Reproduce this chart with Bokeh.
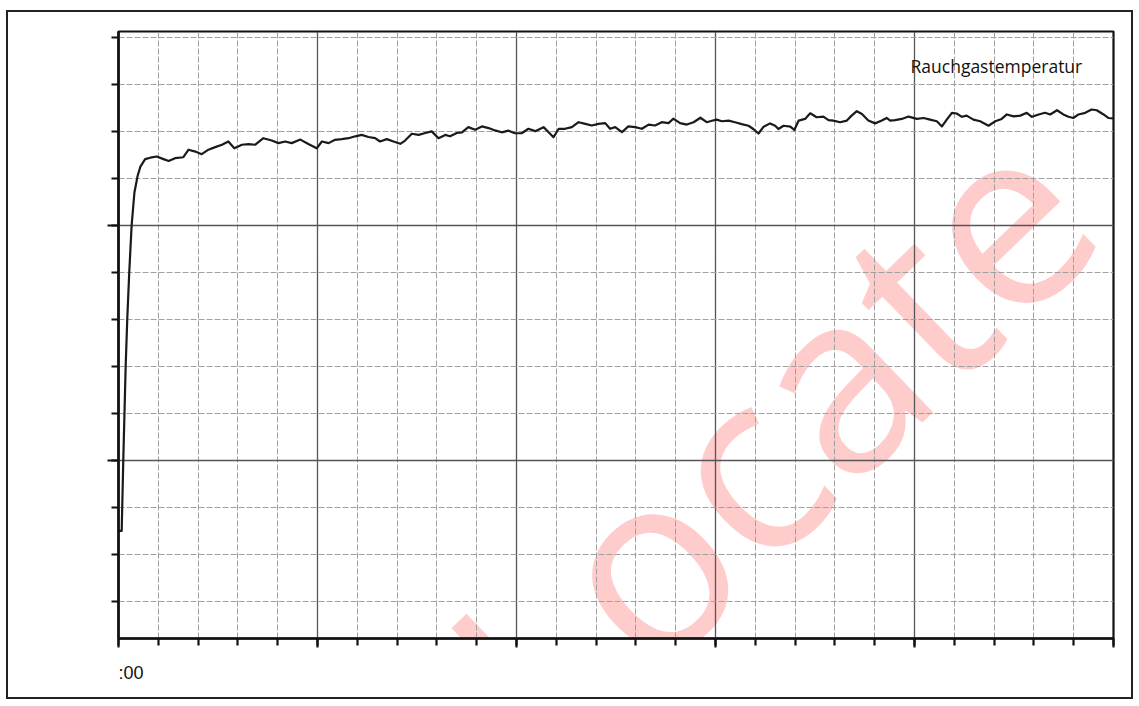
from bokeh.plotting import figure
from bokeh.models import Range1d, SingleIntervalTicker, Label, Title
from bokeh.embed import file_html
from bokeh.resources import INLINE

# ---- data (time in minutes, flue-gas temperature in °C) ----
series_name = "Rauchgastemperatur"
x_start_label = ":00"
watermark = "Locate"

times = [0.00, 0.08, 0.12, 0.18, 0.22, 0.27, 0.33, 0.40, 0.48, 0.55,
         0.67, 0.80, 0.96, 1.13, 1.26, 1.42, 1.63, 1.76, 1.93, 2.09,
         2.26, 2.43, 2.60, 2.76, 2.91, 3.10, 3.27, 3.43, 3.64, 3.85,
         4.02, 4.19, 4.35, 4.57, 4.77, 4.98, 5.11, 5.28, 5.44, 5.61,
         5.78, 5.95, 6.11, 6.28, 6.45, 6.57, 6.74, 6.91, 7.08, 7.20,
         7.37, 7.54, 7.71, 7.87, 8.04, 8.21, 8.33, 8.50, 8.63, 8.79,
         8.96, 9.13, 9.30, 9.46, 9.63, 9.80, 9.96, 10.13, 10.30, 10.47,
         10.68, 10.85, 10.93, 11.06, 11.22, 11.39, 11.56, 11.73, 11.89, 12.06,
         12.23, 12.35, 12.48, 12.65, 12.81, 12.98, 13.15, 13.32, 13.48, 13.65,
         13.82, 13.94, 14.11, 14.28, 14.45, 14.62, 14.78, 14.91, 15.03, 15.16,
         15.33, 15.49, 15.66, 15.83, 15.95, 16.08, 16.21, 16.37, 16.50, 16.58,
         16.71, 16.88, 16.98, 17.09, 17.25, 17.38, 17.54, 17.71, 17.84, 17.96,
         18.13, 18.30, 18.42, 18.55, 18.68, 18.84, 19.01, 19.18, 19.30, 19.39,
         19.51, 19.68, 19.85, 20.06, 20.23, 20.39, 20.56, 20.69, 20.81, 20.94,
         21.06, 21.19, 21.31, 21.48, 21.65, 21.86, 22.03, 22.19, 22.32, 22.49,
         22.66, 22.82, 22.95, 23.12, 23.28, 23.41, 23.58, 23.74, 23.87, 23.99,
         24.12, 24.29, 24.45, 24.58, 24.75, 24.87, 25.00]

temps = [70.0, 70.0, 100.0, 140.0, 160.0, 180.0, 200.0, 214.0, 221.0, 225.0,
         228.2, 228.8, 229.3, 228.2, 227.4, 228.6, 229.0, 232.2, 231.4, 230.3,
         232.2, 233.3, 234.3, 235.7, 232.8, 234.3, 234.6, 234.3, 237.1, 236.1,
         235.0, 235.7, 235.0, 236.5, 234.6, 232.8, 235.7, 235.0, 236.4, 236.7,
         237.1, 237.9, 238.5, 237.6, 237.1, 235.7, 236.7, 235.7, 234.7, 236.1,
         239.0, 238.5, 239.3, 240.0, 237.1, 238.5, 237.9, 239.3, 239.6, 241.8,
         240.7, 242.1, 241.4, 240.4, 239.6, 240.3, 239.2, 239.2, 241.1, 240.1,
         241.8, 238.9, 237.5, 241.1, 241.1, 241.8, 243.9, 243.2, 242.5, 243.2,
         243.5, 241.1, 241.8, 239.7, 242.1, 241.8, 241.1, 242.9, 242.5, 243.9,
         243.5, 245.4, 243.5, 242.9, 243.9, 245.8, 243.9, 244.5, 245.0, 244.3,
         244.6, 243.9, 243.1, 242.4, 241.0, 239.1, 242.0, 243.4, 242.4, 241.0,
         242.4, 242.0, 240.6, 244.6, 245.3, 247.7, 246.0, 246.3, 244.8, 244.6,
         243.9, 244.6, 246.7, 248.6, 247.4, 244.6, 243.4, 244.6, 245.7, 244.6,
         244.8, 245.3, 246.3, 245.3, 245.7, 245.0, 244.3, 242.1, 245.0, 247.9,
         247.6, 246.2, 246.7, 245.0, 244.3, 242.4, 244.3, 245.3, 247.2, 246.4,
         246.7, 247.9, 246.2, 247.2, 247.9, 247.2, 249.0, 247.2, 246.2, 245.7,
         247.2, 247.9, 249.3, 249.0, 247.2, 245.7, 245.5]

x_min, x_max = 0, 25
y_min, y_max = 24.2, 282.5

p = figure(width=1127, height=689, output_backend="svg", toolbar_location=None,
           x_range=Range1d(x_min, x_max), y_range=Range1d(y_min, y_max),
           min_border_left=110, min_border_right=22, min_border_top=19,
           min_border_bottom=63)
p.styles = {"border": "2px solid #222", "margin-left": "6px", "margin-top": "10px"}
p.background_fill_color = "white"
p.border_fill_color = "white"
p.outline_line_color = "#111111"
p.outline_line_width = 2.2

p.xaxis.ticker = SingleIntervalTicker(interval=5, num_minor_ticks=5)
p.yaxis.ticker = SingleIntervalTicker(interval=100, num_minor_ticks=5)

for ax in (p.xaxis, p.yaxis):
    ax.axis_line_color = "#111111"
    ax.axis_line_width = 2.5
    ax.major_tick_line_color = "#111111"
    ax.major_tick_line_width = 2.2
    ax.minor_tick_line_color = "#111111"
    ax.minor_tick_line_width = 2.2
    ax.major_tick_in = 0
    ax.minor_tick_in = 0
    ax.major_label_text_color = None
p.xaxis.major_tick_out = 9
p.xaxis.minor_tick_out = 7
p.yaxis.major_tick_out = 11
p.yaxis.minor_tick_out = 7

for g in (p.xgrid, p.ygrid):
    g.grid_line_color = "#555555"
    g.grid_line_width = 1.3
    g.minor_grid_line_color = "#a0a0a0"
    g.minor_grid_line_width = 1
    g.minor_grid_line_dash = "6 2"

# watermark
p.add_layout(Label(x=12.34, y=-56.2, text=watermark, angle=0.768, angle_units="rad",
                   text_font="Open Sans", text_font_size="251px",
                   text_color="#ff0000", text_alpha=0.2, level="image"))

p.line(times, temps, line_color="#1a1a1a", line_width=2.2, line_join="round")

p.add_layout(Label(x=19.9, y=268.0, text=series_name, text_font="Open Sans",
                   text_font_size="17.5px", text_color="#111111",
                   text_baseline="alphabetic", text_align="left"))

p.add_layout(Title(text=x_start_label, align="left", text_font="Liberation Sans",
                   text_font_size="18px", text_font_style="normal",
                   text_color="#111111", standoff=27), "below")

open("out.html", "w").write(file_html(p, INLINE))
